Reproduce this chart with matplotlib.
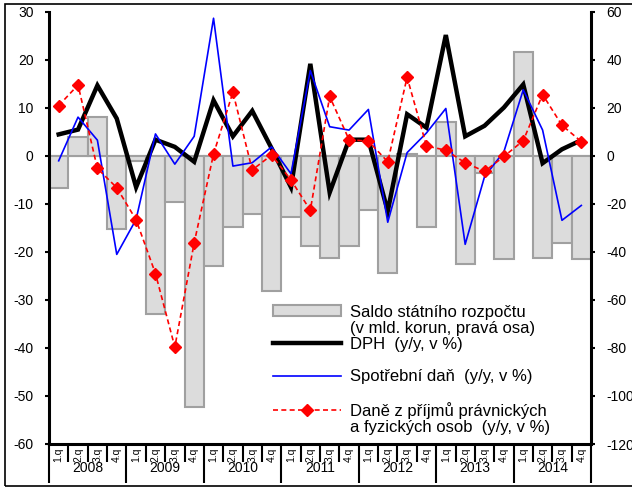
import numpy as np
import matplotlib.pyplot as plt
from matplotlib.patches import Rectangle, Patch
from matplotlib.lines import Line2D
import matplotlib.transforms as mtransforms

plt.rcParams['font.family'] = ['Liberation Sans', 'DejaVu Sans']
plt.rcParams['axes.unicode_minus'] = False

years = ["2008", "2009", "2010", "2011", "2012", "2013", "2014"]
quarter_labels = ["1.q", "2.q", "3.q", "4.q"] * len(years)

# saldo statniho rozpoctu, mld. Kc (prava osa)
saldo = [-13.5, 8.0, 16.4, -30.5,
         -2.0, -65.8, -19.0, -104.5,
         -45.8, -29.7, -24.0, -56.4,
         -25.5, -37.5, -42.4, -37.4,
         -22.7, -48.6, 0.8, -29.7,
         14.1, -45.1, -7.0, -43.0,
         43.2, -42.4, -36.1, -43.0]

# y/y v %
dph = [4.5, 5.5, 14.7, 7.8, -6.5, 3.4, 1.9, -1.2, 11.6, 4.1, 9.4, 1.6,
       -6.5, 19.2, -7.6, 3.4, 3.4, -11.5, 8.7, 5.9, 25.2, 4.1, 6.3, 10.1,
       14.9, -1.5, 1.4, 3.3]
spotrebni = [-1.0, 8.1, 3.3, -20.5, -13.2, 4.6, -1.7, 4.1, 28.7, -2.1, -1.4, 1.9,
             -3.7, 17.8, 6.1, 5.4, 9.7, -13.8, 0.7, 4.8, 9.9, -18.4, -4.3, 0.9,
             13.8, 5.4, -13.4, -10.3]
prijmy = [10.5, 14.8, -2.6, -6.6, -13.3, -24.5, -39.8, -18.1, 0.4, 13.3, -2.9, 0.2,
          -5.0, -11.3, 12.4, 3.4, 3.1, -1.2, 16.4, 2.1, 1.2, -1.4, -3.2, -0.1,
          3.2, 12.8, 6.4, 3.0]

x = np.arange(len(saldo))

fig = plt.figure(figsize=(6.32, 4.88), dpi=100)
axL = fig.add_axes([49/632, 1-444/488, (591-49)/632, (444-12)/488])
axR = axL.twinx()
axL.set_zorder(axR.get_zorder() + 1)
axL.patch.set_visible(False)

# bars on right axis
axR.bar(x, saldo, width=1.0, color='#dcdcdc', edgecolor='#a0a0a0',
        linewidth=1.5, zorder=2)
axR.axhline(0, color='#a0a0a0', lw=1.5, zorder=1)
axR.set_ylim(-120, 60)
axR.set_yticks(np.arange(-120, 61, 20))

# lines on left axis
l_dph, = axL.plot(x, dph, color='black', lw=3.2, solid_joinstyle='miter')
l_spd, = axL.plot(x, spotrebni, color='#0000ff', lw=1.2)
l_dzp, = axL.plot(x, prijmy, color='#ff0000', lw=1.2, ls=(0, (3, 2)),
                  marker='D', markersize=6.5, markeredgecolor='#ff0000',
                  markerfacecolor='#ff0000')
axL.set_ylim(-60, 30)
axL.set_yticks(np.arange(-60, 31, 10))
axL.set_xlim(-0.5, len(x) - 0.5)

axL.spines['top'].set_visible(False)
axR.spines['top'].set_visible(False)
axL.spines['right'].set_visible(False)
axR.spines['left'].set_visible(False)
axR.spines['bottom'].set_visible(False)
axL.spines['left'].set_linewidth(2.2)
axL.spines['bottom'].set_linewidth(2.2)
axR.spines['right'].set_linewidth(2.2)

axL.tick_params(axis='y', direction='out', length=3, width=1.5, pad=8, labelsize=10)
axR.tick_params(axis='y', direction='out', length=3, width=1.5, pad=8, labelsize=10)

# separators between quarters and years
axL.set_xticks(np.arange(-0.5, len(x), 4))
axL.set_xticks(np.arange(-0.5, len(x), 1), minor=True)
axL.tick_params(axis='x', which='major', direction='out', length=28, width=1.5,
                labelbottom=False)
axL.tick_params(axis='x', which='minor', direction='out', length=13, width=1.5,
                labelbottom=False)

trans = mtransforms.blended_transform_factory(axL.transData, axL.transAxes)
for i, q in enumerate(quarter_labels):
    axL.text(i, -0.026, q, transform=trans, rotation=90, ha='center',
             va='center', fontsize=7.5)
for k, yr in enumerate(years):
    axL.text(4 * k + 1.5, -0.056, yr, transform=trans, ha='center',
             va='center', fontsize=10)

# legend: one row per text line, handle sits on the first line of each entry
blank = Line2D([], [], color='none')
handles = [Patch(facecolor='#dcdcdc', edgecolor='#a0a0a0', linewidth=1.5), blank,
           l_dph, blank,
           l_spd, blank,
           l_dzp, blank]
labels = ["Saldo státního rozpočtu", "(v mld. korun, pravá osa)",
          "DPH  (y/y, v %)", " ",
          "Spotřební daň  (y/y, v %)", " ",
          "Daně z příjmů právnických", "a fyzických osob  (y/y, v %)"]
axL.legend(handles, labels, loc='upper left',
           bbox_to_anchor=(266/632, 1-298/488), bbox_transform=fig.transFigure,
           frameon=False, fontsize=12, handlelength=4.1, handleheight=0.6,
           handletextpad=0.55, labelspacing=0.07, borderaxespad=0)

# outer frame
fig.patches.append(Rectangle((5/632, 2/488), 1.0, 1 - 6/488, transform=fig.transFigure,
                             fill=False, edgecolor='black', lw=1.2))

fig.savefig('out.png', dpi=100)
